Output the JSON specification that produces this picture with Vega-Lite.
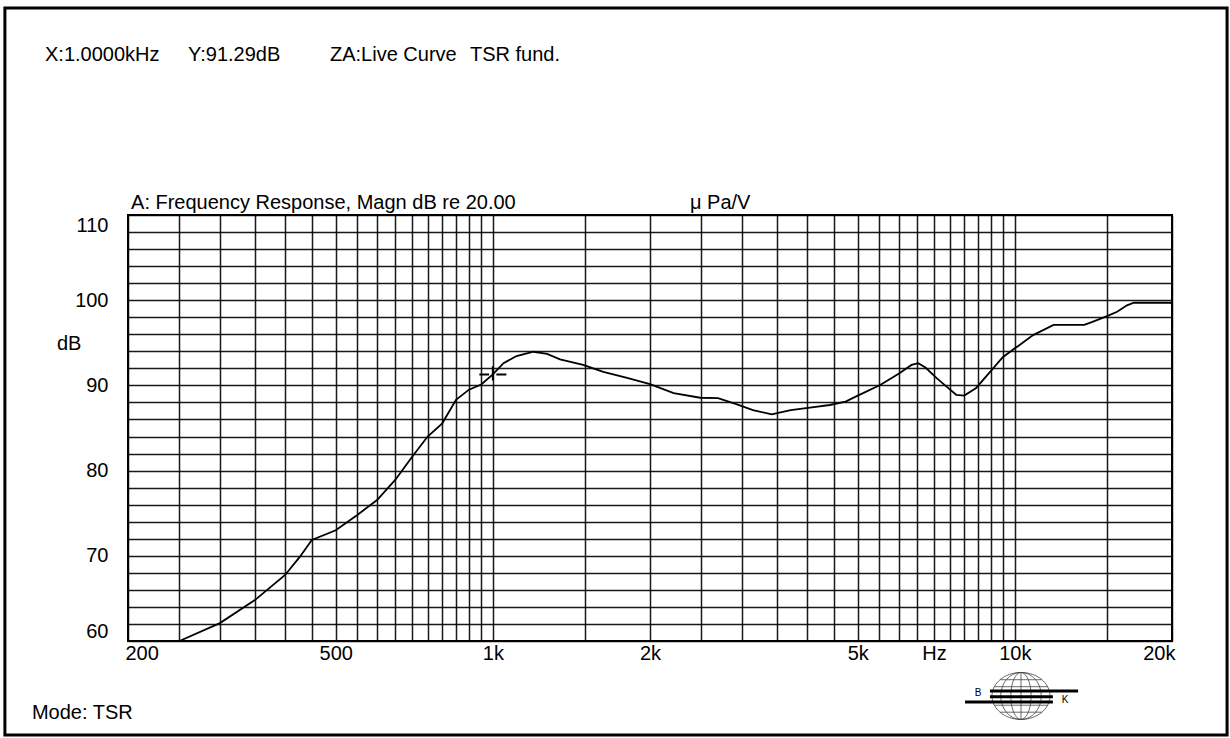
{
  "$schema": "https://vega.github.io/schema/vega-lite/v6.json",
  "width": 1044,
  "height": 426,
  "autosize": {"type": "none"},
  "padding": {"left": 128, "top": 215, "right": 58, "bottom": 97},
  "background": "white",
  "config": {"font": "Liberation Sans", "view": {"stroke": "black", "strokeWidth": 2}},
  "datasets": {
    "curve": [
      {"f": 251, "db": 60.0}, {"f": 300, "db": 62.1}, {"f": 350, "db": 64.8}, {"f": 400, "db": 67.75},
      {"f": 427, "db": 69.9}, {"f": 450, "db": 71.85}, {"f": 500, "db": 73.0}, {"f": 550, "db": 74.8},
      {"f": 600, "db": 76.55}, {"f": 650, "db": 78.9}, {"f": 700, "db": 81.6}, {"f": 750, "db": 84.0},
      {"f": 800, "db": 85.55}, {"f": 850, "db": 88.3}, {"f": 900, "db": 89.5}, {"f": 950, "db": 90.1},
      {"f": 1000, "db": 91.3}, {"f": 1048, "db": 92.6}, {"f": 1110, "db": 93.45}, {"f": 1196, "db": 93.95},
      {"f": 1270, "db": 93.7}, {"f": 1345, "db": 93.05}, {"f": 1489, "db": 92.4}, {"f": 1628, "db": 91.6},
      {"f": 1800, "db": 90.9}, {"f": 2000, "db": 90.16}, {"f": 2220, "db": 89.1}, {"f": 2496, "db": 88.55},
      {"f": 2700, "db": 88.5}, {"f": 2926, "db": 87.8}, {"f": 3150, "db": 87.1}, {"f": 3420, "db": 86.6},
      {"f": 3720, "db": 87.1}, {"f": 4050, "db": 87.4}, {"f": 4420, "db": 87.7}, {"f": 4740, "db": 88.1},
      {"f": 5000, "db": 88.8}, {"f": 5120, "db": 89.1}, {"f": 5520, "db": 90.05}, {"f": 6000, "db": 91.4},
      {"f": 6340, "db": 92.4}, {"f": 6530, "db": 92.6}, {"f": 6740, "db": 92.1}, {"f": 7100, "db": 90.8},
      {"f": 7400, "db": 89.85}, {"f": 7720, "db": 88.9}, {"f": 8000, "db": 88.8}, {"f": 8430, "db": 89.7},
      {"f": 9000, "db": 91.7}, {"f": 9480, "db": 93.3}, {"f": 10000, "db": 94.35}, {"f": 10840, "db": 95.9},
      {"f": 11860, "db": 97.1}, {"f": 13580, "db": 97.1}, {"f": 14000, "db": 97.4}, {"f": 14980, "db": 98.1},
      {"f": 15700, "db": 98.65}, {"f": 16400, "db": 99.4}, {"f": 16900, "db": 99.7}, {"f": 19850, "db": 99.7},
      {"f": 20000, "db": 99.6}
    ],
    "frame": [{"f": 116.2, "f2": 25500, "db": 134.3, "db2": 48.97}],
    "cursor": [{"f": 1000, "db": 91.29}],
    "labels": [
      {"f": 138.7, "db": 128.78, "text": "X:1.0000kHz"},
      {"f": 260.6, "db": 128.78, "text": "Y:91.29dB"},
      {"f": 487.5, "db": 128.78, "text": "ZA:Live Curve"},
      {"f": 903.9, "db": 128.78, "text": "TSR fund."},
      {"f": 202.7, "db": 111.41, "text": "A: Frequency Response, Magn dB re 20.00"},
      {"f": 2386, "db": 111.41, "text": "μ Pa/V"},
      {"f": 146.2, "db": 94.86, "text": "dB"},
      {"f": 130.9, "db": 51.55, "text": "Mode: TSR"}
    ],
    "logo": [{"f": 10274, "db": 53.55}],
    "logoText": [
      {"f": 8500, "db": 53.9, "text": "B"},
      {"f": 12474, "db": 53.08, "text": "K"}
    ]
  },
  "encoding": {
    "x": {
      "field": "f", "type": "quantitative",
      "scale": {"type": "log", "domain": [200, 20000], "nice": false},
      "axis": {
        "title": null, "grid": true, "gridColor": "#000000", "gridWidth": 1.5, "gridOpacity": 0.9,
        "ticks": false, "domain": false, "labelFlush": true, "labelFlushOffset": 3, "labelOverlap": false,
        "labelPadding": 2, "labelFontSize": 20, "labelColor": "black",
        "values": [200,250,300,350,400,450,500,550,600,650,700,750,800,850,900,950,1000,1500,2000,2500,3000,3500,4000,4500,5000,5500,6000,6500,7000,7500,8000,8500,9000,9500,10000,15000,20000],
        "labelExpr": "datum.value==200?'200':datum.value==500?'500':datum.value==1000?'1k':datum.value==2000?'2k':datum.value==5000?'5k':datum.value==7000?'Hz':datum.value==10000?'10k':datum.value==20000?'20k':''"
      }
    },
    "y": {
      "field": "db", "type": "quantitative",
      "scale": {"domain": [60, 110], "nice": false, "zero": false},
      "axis": {
        "title": null, "grid": true, "gridColor": "#000000", "gridWidth": 1.5, "gridOpacity": 0.9,
        "ticks": false, "domain": false, "labelFlush": true, "labelOverlap": false,
        "labelPadding": 20, "labelFontSize": 20, "labelColor": "black",
        "values": [60,62,64,66,68,70,72,74,76,78,80,82,84,86,88,90,92,94,96,98,100,102,104,106,108,110],
        "labelExpr": "datum.value % 10 == 0 ? datum.label : ''"
      }
    }
  },
  "layer": [
    {
      "data": {"name": "frame"},
      "mark": {"type": "rect", "fillOpacity": 0, "stroke": "black", "strokeWidth": 3, "clip": false},
      "encoding": {
        "x2": {"field": "f2"},
        "y2": {"field": "db2"}
      }
    },
    {
      "data": {"name": "curve"},
      "mark": {"type": "line", "color": "black", "strokeWidth": 1.8, "clip": false}
    },
    {
      "data": {"name": "cursor"},
      "mark": {"type": "point", "shape": "M-1,0L-0.28,0M0.26,0L1,0M0,-0.6L0,0.45", "size": 729, "filled": false, "stroke": "black", "strokeWidth": 2, "opacity": 1, "clip": false}
    },
    {
      "data": {"name": "labels"},
      "mark": {"type": "text", "align": "left", "baseline": "middle", "fontSize": 20, "color": "black", "clip": false},
      "encoding": {"text": {"field": "text"}}
    },
    {
      "data": {"name": "logo"},
      "mark": {"type": "point", "shape": "M-1,0A1,0.81 0 1,1 1,0A1,0.81 0 1,1 -1,0ZM0,-0.81L0,0.81M0,-0.81A0.35,0.81 0 0,0 0,0.81A0.35,0.81 0 0,0 0,-0.81M0,-0.81A0.7,0.81 0 0,0 0,0.81A0.7,0.81 0 0,0 0,-0.81M-0.92,-0.32L0.92,-0.32M-0.92,0.32L0.92,0.32M-0.72,-0.56L0.72,-0.56M-0.72,0.56L0.72,0.56", "size": 3364, "filled": false, "stroke": "#444", "strokeWidth": 0.8, "opacity": 1, "clip": false}
    },
    {
      "data": {"name": "logo"},
      "mark": {"type": "point", "shape": "M-1.07,-0.17L1.97,-0.17M-1.07,0.03L1.1,0.03M-1.93,0.21L1.1,0.21", "size": 3364, "filled": false, "stroke": "black", "strokeWidth": 3, "opacity": 1, "clip": false}
    },
    {
      "data": {"name": "logoText"},
      "mark": {"type": "text", "align": "center", "baseline": "middle", "fontSize": 10, "color": "black", "clip": false},
      "encoding": {"text": {"field": "text"}}
    }
  ]
}
